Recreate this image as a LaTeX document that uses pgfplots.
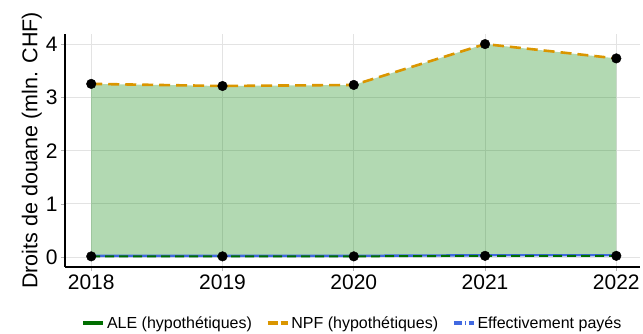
\documentclass[border=0pt]{standalone}
\usepackage{fontspec}
\setmainfont{Liberation Sans}
\usepackage{pgfplots}
\pgfplotsset{compat=1.18}
\usepgfplotslibrary{fillbetween}

\definecolor{aleG}{RGB}{0,110,0}
\definecolor{npfO}{RGB}{218,150,0}
\definecolor{effB}{RGB}{65,105,225}
\definecolor{fillG}{RGB}{0,128,0}

\begin{document}
\begin{tikzpicture}
\begin{axis}[
  scale only axis,
  width=575pt, height=233pt,
  xmin=2017.8, xmax=2022.18,
  ymin=-0.19, ymax=4.2,
  xtick={2018,2019,2020,2021,2022},
  ytick={0,1,2,3,4},
  xticklabel style={/pgf/number format/1000 sep={}},
  /pgf/number format/assume math mode=true,
  tick label style={font=\fontsize{21}{23}\selectfont},
  ylabel={Droits de douane (mln. CHF)},
  ylabel style={font=\fontsize{21.5}{24}\selectfont, yshift=-3pt},
  axis x line*=bottom, axis y line*=left,
  axis line style={-, line width=1.6pt, black},
  tick align=outside, major tick length=4pt,
  tick style={gray!60, line width=0.6pt},
  grid=major, major grid style={gray!22, line width=0.7pt},
  legend style={at={(0.5,-0.24)}, anchor=center, draw=none,
    font=\fontsize{16}{18}\selectfont, legend columns=3,
    /tikz/every even column/.append style={column sep=12pt}},
  legend cell align=left,
  legend image code/.code={\draw[#1] (0cm,0cm) -- (0.7cm,0cm);},
]
\addplot[name path=npf, draw=none, forget plot] coordinates {
(2018,3.26) (2019,3.22) (2020,3.24) (2021,4.01) (2022,3.74)};
\addplot[name path=ale, draw=none, forget plot] coordinates {
(2018,0.01) (2019,0.01) (2020,0.01) (2021,0.02) (2022,0.02)};
\addplot[fill=fillG, fill opacity=0.3, draw=none, forget plot] fill between[of=npf and ale];

\addplot[effB, line width=2.4pt, forget plot] coordinates {
(2018,0.02) (2019,0.02) (2020,0.02) (2021,0.03) (2022,0.03)};
\addplot[aleG, line width=2pt, dash pattern=on 9pt off 5pt, forget plot] coordinates {
(2018,0.01) (2019,0.01) (2020,0.01) (2021,0.02) (2022,0.02)};
\addplot[npfO, line width=2.6pt, dash pattern=on 11pt off 6pt, forget plot] coordinates {
(2018,3.26) (2019,3.22) (2020,3.24) (2021,4.01) (2022,3.74)};
\addplot[only marks, mark=*, mark size=4.8pt, black, forget plot] coordinates {
(2018,3.26) (2019,3.22) (2020,3.24) (2021,4.01) (2022,3.74)
(2018,0.01) (2019,0.01) (2020,0.01) (2021,0.02) (2022,0.02)};

\addlegendimage{aleG, line width=3.5pt}
\addlegendentry{ALE (hypothétiques)}
\addlegendimage{npfO, line width=3.5pt, dash pattern=on 10pt off 3pt}
\addlegendentry{NPF (hypothétiques)}
\addlegendimage{effB, line width=3.5pt, dash pattern=on 8pt off 3pt on 1pt off 3pt}
\addlegendentry{Effectivement payés}
\end{axis}
\path ([shift={(-65pt,-64pt)}]current axis.south west) rectangle ([shift={(3pt,34pt)}]current axis.north east);
\end{tikzpicture}
\end{document}
